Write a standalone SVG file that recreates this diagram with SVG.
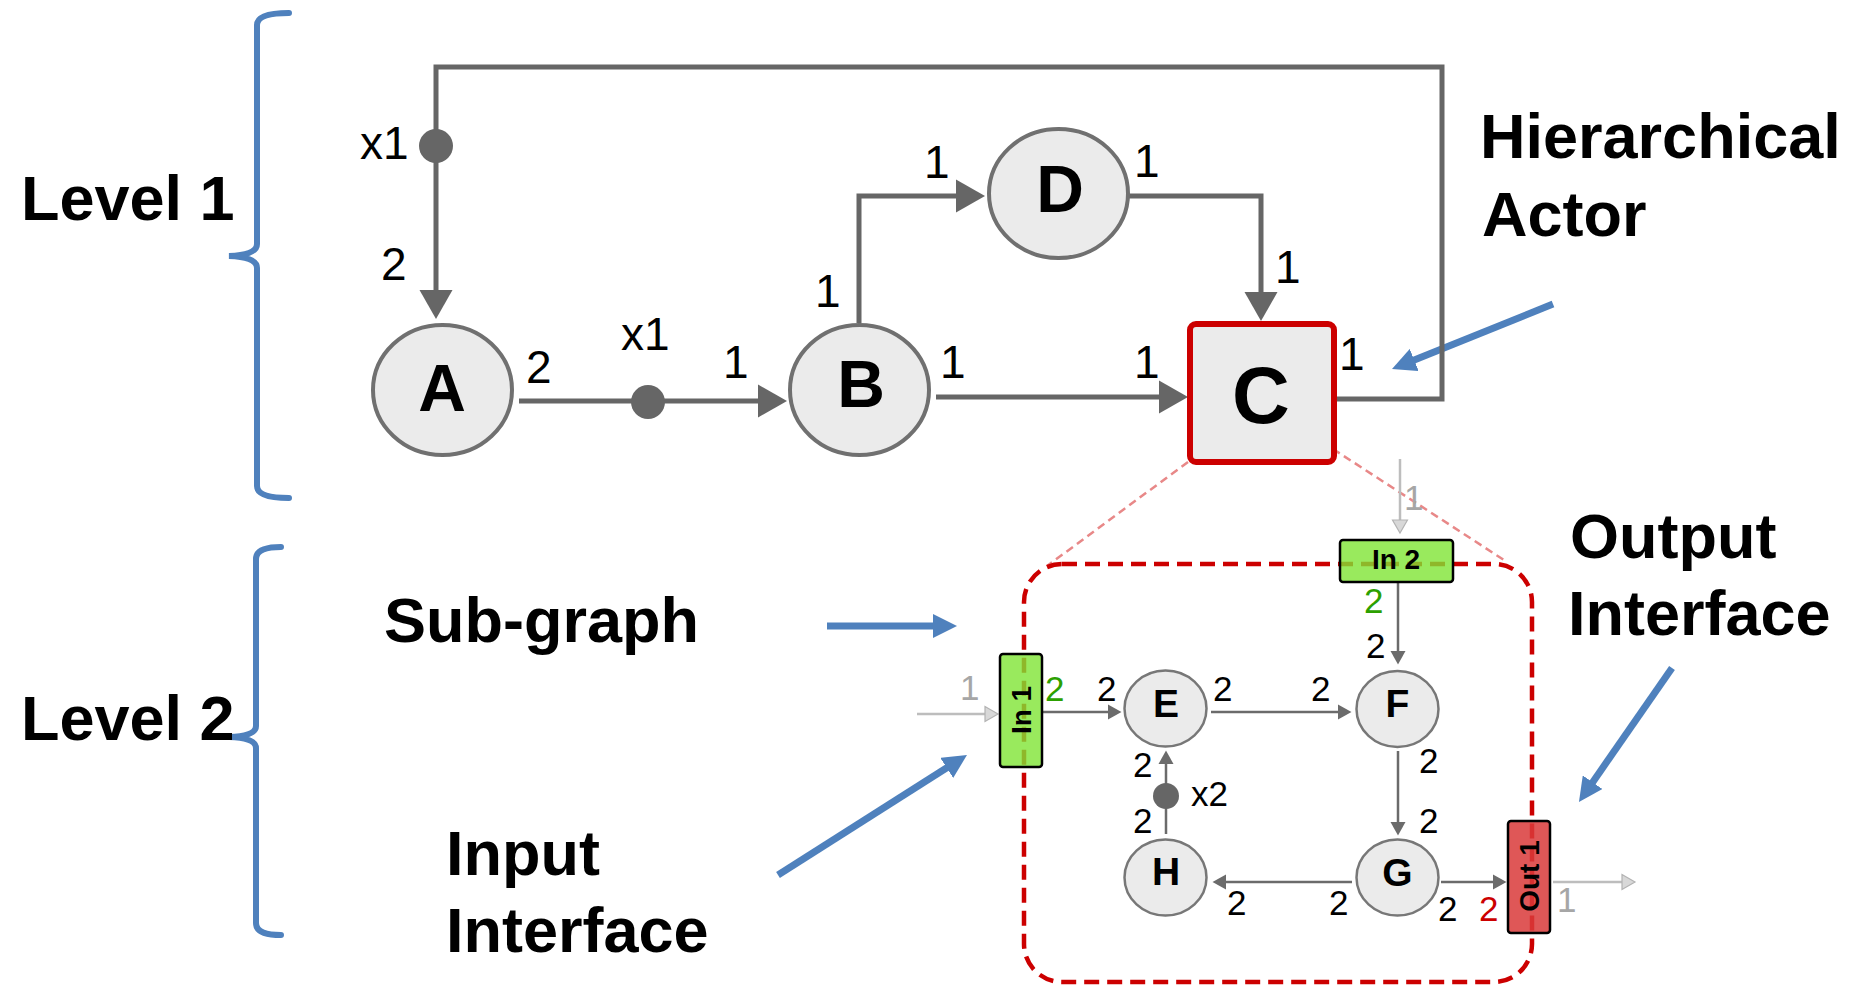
<svg xmlns="http://www.w3.org/2000/svg" width="1865" height="987" viewBox="0 0 1865 987">
<style>
text{font-family:'Liberation Sans',Arial,sans-serif}
.lbl{font-weight:bold;font-size:63px;fill:#000}
.n1{font-size:46px;fill:#000}
.n2{font-size:35px;fill:#000}
.big{font-weight:bold;font-size:66px;text-anchor:middle;fill:#000}
.sm{font-weight:bold;font-size:39px;text-anchor:middle;fill:#000}
.port{font-weight:bold;font-size:28px;text-anchor:middle;fill:#000}
.node1{fill:#ebebeb;stroke:#707070;stroke-width:4}
.node2{fill:#ebebeb;stroke:#777;stroke-width:2.5}
.e1{fill:none;stroke:#666;stroke-width:5}
.e2{fill:none;stroke:#6b6b6b;stroke-width:2.5}
.eg{fill:none;stroke:#bdbdbd;stroke-width:2.5}
.blue{fill:none;stroke:#4f81bd;stroke-width:7}
.brace{fill:none;stroke:#4f81bd;stroke-width:6;stroke-linecap:round}
.gray{fill:#a6a6a6}
.green{fill:#2ca000}
.red{fill:#cc0000}
.zoom{fill:none;stroke:#e88888;stroke-width:2.5;stroke-dasharray:8 5}
.sub{fill:none;stroke:#cc0000;stroke-width:4.5;stroke-dasharray:15 8}
.inb{fill:#7fe534;fill-opacity:0.8;stroke:#000;stroke-width:2.5}
.outb{fill:#d93a3a;fill-opacity:0.85;stroke:#000;stroke-width:2.5}
</style>
<defs>
<marker id="ah1" markerUnits="userSpaceOnUse" viewBox="0 -17 30 34" markerWidth="30" markerHeight="34" refX="0" refY="0" orient="auto"><path d="M0,-16.5 L29,0 L0,16.5 z" fill="#666"/></marker>
<marker id="ah2" markerUnits="userSpaceOnUse" viewBox="0 -8 14 16" markerWidth="14" markerHeight="16" refX="0" refY="0" orient="auto"><path d="M0,-7.5 L13.5,0 L0,7.5 z" fill="#6b6b6b"/></marker>
<marker id="ahg" markerUnits="userSpaceOnUse" viewBox="-1 -9 16 18" markerWidth="16" markerHeight="18" refX="0" refY="0" orient="auto"><path d="M0,-7.5 L13,0 L0,7.5 z" fill="#d8d8d8" stroke="#b3b3b3" stroke-width="1.2"/></marker>
<marker id="ahb" markerUnits="userSpaceOnUse" viewBox="0 -12 24 24" markerWidth="24" markerHeight="24" refX="2" refY="0" orient="auto"><path d="M0,-12 L24,0 L0,12 z" fill="#4f81bd"/></marker>
</defs>

<g id="annotations">
<path class="brace" d="M289,13 Q257,13 257,25 L257,244 Q257,255 229,256 Q257,257 257,268 L257,486 Q257,498 289,498"/>
<path class="brace" d="M281,547 Q256,547 256,559 L256,726 Q256,736 229,737 Q256,738 256,748 L256,923 Q256,935 281,935"/>
<text class="lbl" x="21" y="220">Level 1</text>
<text class="lbl" x="21" y="740">Level 2</text>
<text class="lbl" x="1480" y="158">Hierarchical</text>
<text class="lbl" x="1482" y="236">Actor</text>
<text class="lbl" x="384" y="642">Sub-graph</text>
<text class="lbl" x="446" y="875">Input</text>
<text class="lbl" x="446" y="952">Interface</text>
<text class="lbl" x="1570" y="558">Output</text>
<text class="lbl" x="1568" y="635">Interface</text>
<path class="blue" d="M1553,304 L1412.4,360.8" marker-end="url(#ahb)"/>
<path class="blue" d="M827,626 L935,626" marker-end="url(#ahb)"/>
<path class="blue" d="M778,875 L948.4,766.8" marker-end="url(#ahb)"/>
<path class="blue" d="M1672,668 L1591.5,783.9" marker-end="url(#ahb)"/>
</g>

<g id="connectors">
<path class="e1" d="M1337,399 H1442 V67 H436 V290" marker-end="url(#ah1)"/>
<circle cx="436" cy="146" r="17" fill="#666"/>
<path class="e1" d="M519,401 H758" marker-end="url(#ah1)"/>
<circle cx="648" cy="402" r="17" fill="#666"/>
<path class="e1" d="M859,323 V196 H956" marker-end="url(#ah1)"/>
<path class="e1" d="M1129,196 H1261 V292" marker-end="url(#ah1)"/>
<path class="e1" d="M936,397 H1159" marker-end="url(#ah1)"/>
<path class="zoom" d="M1188,462 L1047,566"/>
<path class="zoom" d="M1333,449 L1507,562"/>
<path class="e2" d="M1043,712 H1108" marker-end="url(#ah2)"/>
<path class="e2" d="M1211,712 H1338" marker-end="url(#ah2)"/>
<path class="e2" d="M1398,583 V651" marker-end="url(#ah2)"/>
<path class="e2" d="M1398,751 V822" marker-end="url(#ah2)"/>
<path class="e2" d="M1352,882 H1226" marker-end="url(#ah2)"/>
<path class="e2" d="M1166,834 V764" marker-end="url(#ah2)"/>
<circle cx="1166" cy="796" r="13" fill="#666"/>
<path class="e2" d="M1441,882 H1493" marker-end="url(#ah2)"/>
<path class="eg" d="M917,714 H985" marker-end="url(#ahg)"/>
<path class="eg" d="M1400,459 V520" marker-end="url(#ahg)"/>
<path class="eg" d="M1553,882 H1622" marker-end="url(#ahg)"/>
</g>

<g id="labels">
<text class="n1" x="360" y="159">x1</text>
<text class="n1" x="381" y="280">2</text>
<text class="n1" x="526" y="383">2</text>
<text class="n1" x="621" y="350">x1</text>
<text class="n1" x="723" y="378">1</text>
<text class="n1" x="815" y="307">1</text>
<text class="n1" x="924" y="178">1</text>
<text class="n1" x="1134" y="177">1</text>
<text class="n1" x="1275" y="283">1</text>
<text class="n1" x="940" y="378">1</text>
<text class="n1" x="1134" y="378">1</text>
<text class="n1" x="1339" y="370">1</text>
<text class="n2 gray" x="960" y="700">1</text>
<text class="n2 green" x="1045" y="701">2</text>
<text class="n2" x="1097" y="701">2</text>
<text class="n2" x="1213" y="701">2</text>
<text class="n2" x="1311" y="701">2</text>
<text class="n2 gray" x="1404" y="510">1</text>
<text class="n2 green" x="1364" y="613">2</text>
<text class="n2" x="1366" y="658">2</text>
<text class="n2" x="1419" y="773">2</text>
<text class="n2" x="1419" y="833">2</text>
<text class="n2" x="1438" y="921">2</text>
<text class="n2 red" x="1479" y="921">2</text>
<text class="n2 gray" x="1557" y="912">1</text>
<text class="n2" x="1227" y="915">2</text>
<text class="n2" x="1329" y="915">2</text>
<text class="n2" x="1133" y="777">2</text>
<text class="n2" x="1133" y="833">2</text>
<text class="n2" x="1191" y="806">x2</text>
</g>

<g id="subgraph">
<rect class="sub" x="1024" y="564" width="508" height="418" rx="38"/>
</g>

<g id="node-A"><ellipse class="node1" cx="442.5" cy="390" rx="69.5" ry="65"/><text class="big" x="442" y="411">A</text></g>
<g id="node-B"><ellipse class="node1" cx="859.5" cy="390" rx="69.5" ry="65"/><text class="big" x="861" y="407">B</text></g>
<g id="node-D"><ellipse class="node1" cx="1058.5" cy="193.5" rx="69.5" ry="64.5"/><text class="big" x="1060" y="212">D</text></g>
<g id="node-C"><rect x="1190" y="324" width="144" height="138" rx="6" fill="#ebebeb" stroke="#cc0000" stroke-width="6"/><text class="big" x="1261" y="423" style="font-size:80px">C</text></g>

<g id="node-E"><ellipse class="node2" cx="1165.5" cy="708.5" rx="41" ry="38"/><text class="sm" x="1166" y="717">E</text></g>
<g id="node-F"><ellipse class="node2" cx="1397.5" cy="709" rx="41" ry="38"/><text class="sm" x="1397.5" y="717">F</text></g>
<g id="node-G"><ellipse class="node2" cx="1397.5" cy="877.5" rx="41" ry="38"/><text class="sm" x="1397.5" y="886">G</text></g>
<g id="node-H"><ellipse class="node2" cx="1165.5" cy="877.5" rx="41" ry="38"/><text class="sm" x="1166" y="885">H</text></g>

<g id="port-In1"><rect class="inb" x="1000" y="654" width="42" height="113" rx="3"/><text class="port" transform="translate(1020.5,710) rotate(-90)" x="0" y="10">In 1</text></g>
<g id="port-In2"><rect class="inb" x="1340" y="540" width="113" height="42" rx="3"/><text class="port" x="1396" y="569">In 2</text></g>
<g id="port-Out1"><rect class="outb" x="1508" y="821" width="42" height="112" rx="3"/><text class="port" transform="translate(1528.5,876) rotate(-90)" x="0" y="10">Out 1</text></g>
</svg>
